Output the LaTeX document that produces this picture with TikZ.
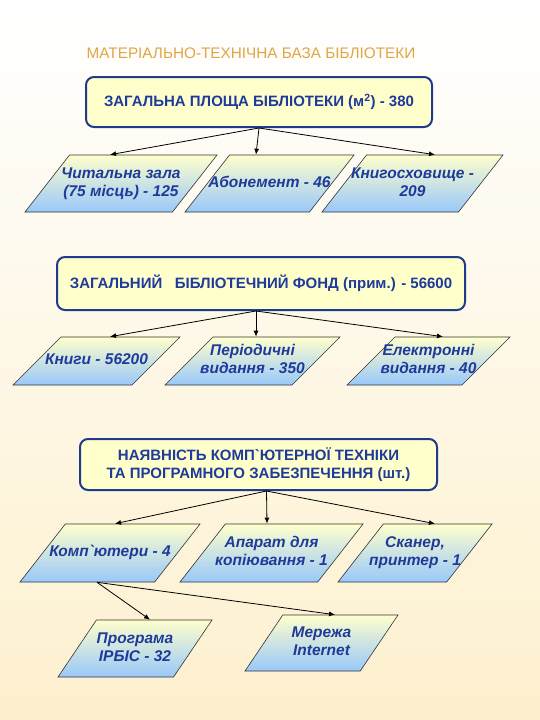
\documentclass[tikz,border=0pt]{standalone}
\usepackage{fontspec}
\setmainfont{Liberation Sans}
\usetikzlibrary{shapes.geometric,arrows.meta}
\definecolor{bgtan}{HTML}{FDF0CE}
\definecolor{titleorange}{HTML}{E0A545}
\definecolor{navy}{HTML}{1F3C8C}
\definecolor{inkblue}{HTML}{1E3A9A}
\definecolor{paleyellow}{HTML}{FFFFCC}
\definecolor{paleblue}{HTML}{99C8FA}
\newcommand\slabtext[2]{\vbox to #1{\vss\hbox to 0pt{\hss\begin{tabular}{@{}c@{}}#2\end{tabular}\hss}\vss}}
\begin{document}
\begin{tikzpicture}[x=1pt, y=-1pt,
  mainbox/.style={draw=navy, line width=2pt, rounded corners=8pt, fill=paleyellow, text=inkblue,
    font=\fontsize{15}{18}\selectfont\bfseries, align=center, inner sep=0pt},
  item/.style={trapezium, trapezium stretches body, draw=black!80, line width=0.6pt,
    top color=paleyellow, bottom color=paleblue, text=inkblue,
    font=\fontsize{15.5}{18}\selectfont\bfseries\itshape, inner sep=0pt},
  slant/.style 2 args={trapezium left angle=#1, trapezium right angle=#2},
  link/.style={-{Latex[length=6pt,width=5pt]}, line width=0.8pt}]
\useasboundingbox (0,0) rectangle (540,720);
\fill[top color=white, bottom color=bgtan] (0,0) rectangle (540,720);

\node [text=titleorange, font=\fontsize{15.3}{18}\selectfont] (title) at (251,53) {МАТЕРІАЛЬНО-ТЕХНІЧНА БАЗА БІБЛІОТЕКИ};

\node [mainbox, minimum width=346, minimum height=50] (area) at (259,102)
  {ЗАГАЛЬНА ПЛОЩА БІБЛІОТЕКИ (м\textsuperscript{2}) - 380};
\node [item, slant={52}{128}, minimum width=192] (reading) at (121,183.5)
  {\slabtext{57pt}{Читальна зала\\(75 місць) - 125}};
\node [item, slant={52}{128}, minimum width=169] (loan) at (269.5,183.5)
  {\slabtext{57pt}{Абонемент - 46}};
\node [item, slant={52}{128}, minimum width=181] (store) at (412.5,183.5)
  {\slabtext{57pt}{Книгосховище -\\209}};

\node [mainbox, minimum width=408, minimum height=53] (fund) at (261,283.5)
  {ЗАГАЛЬНИЙ\ \ \ БІБЛІОТЕЧНИЙ ФОНД (прим.) - 56600};
\node [item, slant={45}{135}, minimum width=167] (books) at (96.5,361)
  {\slabtext{48pt}{Книги - 56200}};
\node [item, slant={45}{135}, minimum width=175] (period) at (252.5,361)
  {\slabtext{48pt}{Періодичні\\видання - 350}};
\node [item, slant={45}{135}, minimum width=163] (elect) at (428.5,361)
  {\slabtext{48pt}{Електронні\\видання - 40}};

\node [mainbox, minimum width=357, minimum height=51] (tech) at (258.5,464.5)
  {НАЯВНІСТЬ КОМП\textasciigrave ЮТЕРНОЇ ТЕХНІКИ\\ТА ПРОГРАМНОГО ЗАБЕЗПЕЧЕННЯ (шт.)};
\node [item, slant={52}{128}, minimum width=180] (pcs) at (110,553)
  {\slabtext{58pt}{Комп\textasciigrave ютери - 4}};
\node [item, slant={52}{128}, minimum width=183] (copier) at (271.5,553)
  {\slabtext{58pt}{Апарат для\\копіювання - 1}};
\node [item, slant={52}{128}, minimum width=154] (scanner) at (415,553)
  {\slabtext{58pt}{Сканер,\\принтер - 1}};

\node [item, slant={56}{124}, minimum width=154] (irbis) at (135,648.5)
  {\slabtext{57pt}{Програма\\ІРБІС - 32}};
\node [item, slant={56}{124}, minimum width=153] (net) at (321.5,643)
  {\slabtext{56pt}{Мережа\\Internet}};

\draw [link] (area.south) -- ([xshift=-11pt]reading.north);
\draw [link] (area.south) -- ([xshift=-13.5pt]loan.north);
\draw [link] (area.south) -- ([xshift=22.5pt]store.north);

\draw [link] ([xshift=-5pt]fund.south) -- ([xshift=13.5pt]books.north);
\draw [link] ([xshift=-5pt]fund.south) -- ([xshift=3.5pt]period.north);
\draw [link] ([xshift=-5pt]fund.south) -- ([xshift=14.5pt]elect.north);

\draw [link] ([xshift=8pt]tech.south) -- ([xshift=5pt]pcs.north);
\draw [link] ([xshift=8pt]tech.south) -- ([xshift=-4.5pt]copier.north);
\draw [link] ([xshift=8pt]tech.south) -- ([xshift=20pt]scanner.north);

\draw [link] ([xshift=-13pt]pcs.south) -- ([xshift=15pt]irbis.north);
\draw [link] ([xshift=-13pt]pcs.south) -- ([xshift=13.5pt]net.north);
\end{tikzpicture}
\end{document}
